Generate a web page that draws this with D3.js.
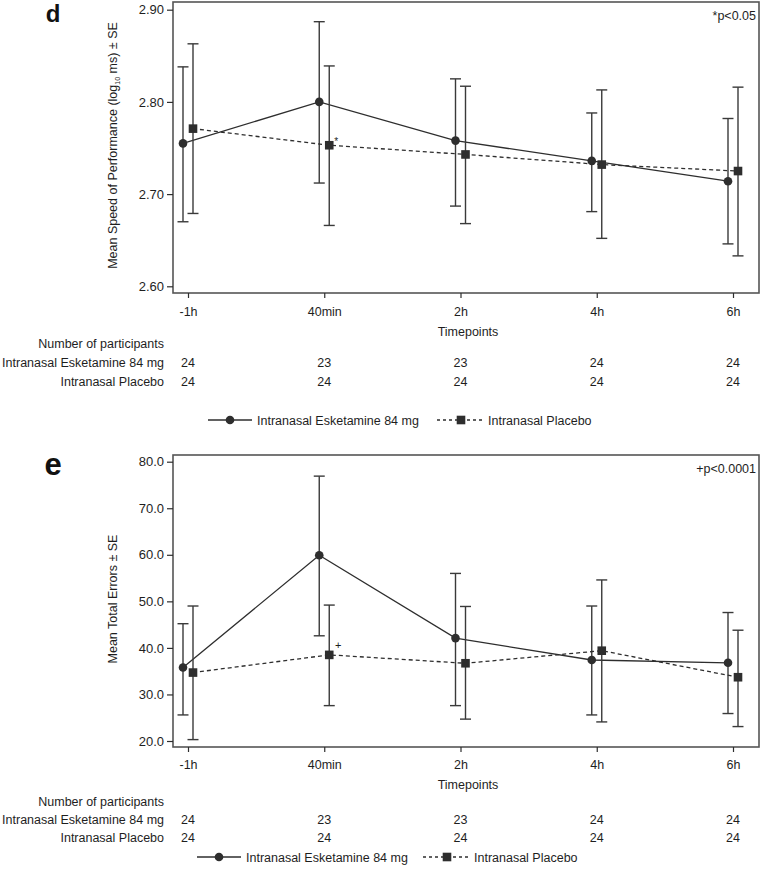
<!DOCTYPE html>
<html><head><meta charset="utf-8">
<script src="https://cdn.jsdelivr.net/npm/d3@7"></script>
<style>body{margin:0;background:#fff}svg{display:block;font-family:"Liberation Sans",Arial,sans-serif}</style>
</head><body>
<script>
const timepoints = ["-1h","40min","2h","4h","6h"];
const nEsk = [24,23,23,24,24];
const nPla = [24,24,24,24,24];
// panel d: speed of performance
const speedEskMean = [2.755, 2.800, 2.758, 2.736, 2.714];
const speedEskLo   = [2.670, 2.712, 2.687, 2.681, 2.646];
const speedEskHi   = [2.838, 2.887, 2.825, 2.788, 2.782];
const speedPlaMean = [2.771, 2.753, 2.743, 2.732, 2.725];
const speedPlaLo   = [2.679, 2.666, 2.668, 2.652, 2.633];
const speedPlaHi   = [2.863, 2.839, 2.817, 2.813, 2.816];
const speedTicks = [2.60, 2.70, 2.80, 2.90];
// panel e: total errors
const errEskMean = [35.8, 59.9, 42.1, 37.4, 36.8];
const errEskLo   = [25.6, 42.6, 27.6, 25.6, 25.9];
const errEskHi   = [45.2, 76.9, 56.0, 49.0, 47.6];
const errPlaMean = [34.7, 38.5, 36.7, 39.4, 33.7];
const errPlaLo   = [20.3, 27.6, 24.7, 24.1, 23.1];
const errPlaHi   = [49.0, 49.2, 48.9, 54.6, 43.8];
const errTicks = [20, 30, 40, 50, 60, 70, 80];
const seriesNames = ["Intranasal Esketamine 84 mg", "Intranasal Placebo"];

const W = 761, H = 871;
const FS = "12.5px";
const svg = d3.select("body").append("svg").attr("width", W).attr("height", H);
const ink = "#2e2e2e", boxC = "#555", txt = "#1e1e1e";
const x = d3.scalePoint(timepoints, [188, 733]);

function panel(cfg) {
  const g = svg.append("g");
  const y = d3.scaleLinear([cfg.ticks[0], cfg.ticks[cfg.ticks.length-1]], cfg.yr);
  const L = 173, R = 759, T = cfg.top, B = cfg.bottom;
  g.append("rect").attr("x", L).attr("y", T).attr("width", R-L).attr("height", B-T)
    .attr("fill", "none").attr("stroke", boxC).attr("stroke-width", 1.6);
  const ya = g.append("g").attr("transform", `translate(${L},0)`)
    .call(d3.axisLeft(y).tickValues(cfg.ticks).tickFormat(d3.format(cfg.fmt)).tickSize(6).tickPadding(3));
  ya.select(".domain").remove();
  ya.selectAll("line").attr("stroke", ink).attr("stroke-width", 1.2);
  ya.selectAll("text").attr("fill", txt).style("font-size", "13px").style("font-family", "Liberation Sans, Arial, sans-serif");
  const xa = g.append("g").attr("transform", `translate(0,${B})`)
    .call(d3.axisBottom(x).tickSize(5).tickPadding(0));
  xa.select(".domain").remove();
  xa.selectAll("line").attr("stroke", ink).attr("stroke-width", 1.2);
  xa.selectAll("text").attr("fill", txt).style("font-size", FS)
    .style("font-family", "Liberation Sans, Arial, sans-serif").attr("y", 0).attr("dy", null)
    .attr("transform", `translate(0,${cfg.tickLabY - B + 4.5})`);
  g.append("text").attr("x", 468).attr("y", cfg.xTitleY + 4.5).attr("text-anchor", "middle")
    .attr("fill", txt).style("font-size", FS).text("Timepoints");
  const yt = g.append("text").attr("transform", `translate(117,${(T+B)/2 - 2}) rotate(-90)`)
    .attr("text-anchor", "middle").attr("fill", txt).style("font-size", FS);
  cfg.yTitle(yt);
  g.append("text").attr("x", 53).attr("y", cfg.letterY).attr("text-anchor", "middle")
    .attr("font-weight", "bold").attr("fill", "#111").style("font-size", cfg.letterSize + "px").text(cfg.letter);
  g.append("text").attr("x", 756).attr("y", T + 18).attr("text-anchor", "end")
    .attr("fill", txt).style("font-size", FS).text(cfg.note);

  const series = [
    {mean: cfg.eskM, lo: cfg.eskL, hi: cfg.eskH, off: -5, dash: null, sym: "circle"},
    {mean: cfg.plaM, lo: cfg.plaL, hi: cfg.plaH, off: 5, dash: "4,3", sym: "square"}
  ];
  series.forEach(s => {
    const pts = timepoints.map((t, i) => ({x: x(t) + s.off, m: s.mean[i], lo: s.lo[i], hi: s.hi[i]}));
    const eb = g.append("g").attr("stroke", "#3a3a3a").attr("stroke-width", 1.4);
    pts.forEach(p => {
      eb.append("line").attr("x1", p.x).attr("x2", p.x).attr("y1", y(p.lo)).attr("y2", y(p.hi));
      eb.append("line").attr("x1", p.x-5.5).attr("x2", p.x+5.5).attr("y1", y(p.lo)).attr("y2", y(p.lo));
      eb.append("line").attr("x1", p.x-5.5).attr("x2", p.x+5.5).attr("y1", y(p.hi)).attr("y2", y(p.hi));
    });
    g.append("path").datum(pts)
      .attr("d", d3.line().x(p => p.x).y(p => y(p.m)))
      .attr("fill", "none").attr("stroke", ink).attr("stroke-width", 1.3)
      .attr("stroke-dasharray", s.dash);
    pts.forEach(p => {
      if (s.sym === "circle") g.append("circle").attr("cx", p.x).attr("cy", y(p.m)).attr("r", 4.3).attr("fill", ink);
      else g.append("rect").attr("x", p.x-4.3).attr("y", y(p.m)-4.3).attr("width", 8.6).attr("height", 8.6).attr("fill", ink);
    });
  });
  const si = cfg.sigIdx;
  g.append("text").attr("x", x(timepoints[si]) + 5 + cfg.sigDx).attr("y", y(cfg.plaM[si]) + cfg.sigDy)
    .attr("text-anchor", "middle").attr("fill", txt).style("font-size", cfg.sigSize + "px").text(cfg.sig);

  const rows = [["Number of participants", null], [seriesNames[0], nEsk], [seriesNames[1], nPla]];
  rows.forEach((r, k) => {
    const yy = cfg.rowY[k] + 4.5;
    g.append("text").attr("x", 164).attr("y", yy).attr("text-anchor", "end").attr("fill", txt)
      .style("font-size", FS).text(r[0]);
    if (r[1]) r[1].forEach((v, i) => g.append("text").attr("x", x(timepoints[i])).attr("y", yy)
      .attr("text-anchor", "middle").attr("fill", txt).style("font-size", FS).text(v));
  });
  const lx = cfg.legX, ly = cfg.legY;
  const lg = g.append("g");
  lg.append("line").attr("x1", lx).attr("x2", lx+44).attr("y1", ly).attr("y2", ly).attr("stroke", ink).attr("stroke-width", 1.4);
  lg.append("circle").attr("cx", lx+22).attr("cy", ly).attr("r", 4.3).attr("fill", ink);
  lg.append("text").attr("x", lx+49).attr("y", ly+4.5).attr("fill", txt).style("font-size", FS).text(seriesNames[0]);
  const l2 = lx + cfg.leg2;
  lg.append("line").attr("x1", l2).attr("x2", l2+48).attr("y1", ly).attr("y2", ly).attr("stroke", ink)
    .attr("stroke-width", 1.3).attr("stroke-dasharray", "3,3");
  lg.append("rect").attr("x", l2+24-4.3).attr("y", ly-4.3).attr("width", 8.6).attr("height", 8.6).attr("fill", ink);
  lg.append("text").attr("x", l2+51).attr("y", ly+4.5).attr("fill", txt).style("font-size", FS).text(seriesNames[1]);
}

panel({
  top: 2, bottom: 293, yr: [286.3, 9.7], ticks: speedTicks, fmt: ".2f",
  tickLabY: 311, xTitleY: 331, rowY: [343, 362, 381], legY: 420, legX: 208, leg2: 229,
  letter: "d", letterY: 22, letterSize: 24, note: "*p<0.05",
  eskM: speedEskMean, eskL: speedEskLo, eskH: speedEskHi,
  plaM: speedPlaMean, plaL: speedPlaLo, plaH: speedPlaHi,
  sigIdx: 1, sig: "*", sigDx: 7, sigDy: 0, sigSize: 10,
  yTitle: t => { t.append("tspan").text("Mean Speed of Performance (log");
    t.append("tspan").attr("dy", 3).style("font-size", "7px").text("10");
    t.append("tspan").attr("dy", -3).text(" ms) \u00b1 SE"); }
});
panel({
  top: 455, bottom: 747, yr: [741, 461.7], ticks: errTicks, fmt: ".1f",
  tickLabY: 764, xTitleY: 784, rowY: [801, 819, 837], legY: 857, legX: 197, leg2: 226,
  letter: "e", letterY: 475, letterSize: 31, note: "+p<0.0001",
  eskM: errEskMean, eskL: errEskLo, eskH: errEskHi,
  plaM: errPlaMean, plaL: errPlaLo, plaH: errPlaHi,
  sigIdx: 1, sig: "+", sigDx: 9, sigDy: -6, sigSize: 11,
  yTitle: t => t.text("Mean Total Errors \u00b1 SE")
});
</script>
</body></html>
